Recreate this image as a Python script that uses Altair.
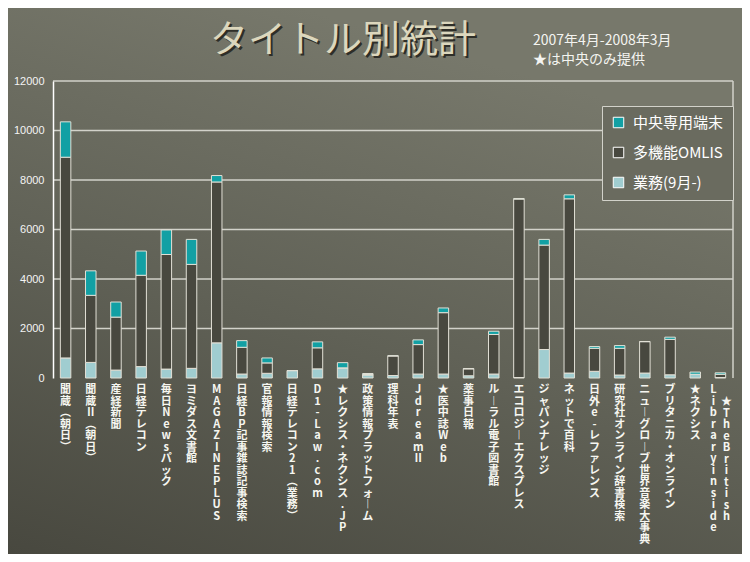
import altair as alt
import pandas as pd

categories = ["聞蔵（朝日）", "聞蔵Ⅱ（朝日）", "産経新聞", "日経テレコン", "毎日Newsパック",
              "ヨミダス文書館", "MAGAZINEPLUS", "日経BP記事雑誌記事検索", "官報情報検索",
              "日経テレコン21（業務）", "D1-Law.com", "★レクシス・ネクシス.JP",
              "政策情報プラットフォーム", "理科年表", "JdreamⅡ", "★医中誌Web", "薬事日報",
              "ルーラル電子図書館", "エコロジーエクスプレス", "ジャパンナレッジ", "ネットで百科",
              "日外e-レファレンス", "研究社オンライン辞書検索", "ニューグローブ世界音楽大事典",
              "ブリタニカ・オンライン", "★ネクシス", "★The British Library inside"]

series = ["中央専用端末", "多機能OMLIS", "業務(9月-)"]
gyomu = [810, 630, 320, 460, 360, 390, 1420, 160, 190, 300, 370, 410, 120, 100, 160, 160,
         90, 160, 20, 1150, 200, 270, 120, 200, 130, 150, 20]
omlis = [8110, 2710, 2140, 3690, 4630, 4200, 6500, 1080, 420, 0, 850, 0, 20, 790, 1190, 2480,
         280, 1600, 7210, 4220, 7040, 930, 1080, 1270, 1430, 0, 130]
chuo = [1430, 990, 610, 980, 990, 1010, 260, 270, 200, 0, 240, 210, 40, 10, 190, 190,
        10, 130, 20, 230, 160, 70, 110, 0, 90, 90, 60]

y_ticks = [0, 2000, 4000, 6000, 8000, 10000, 12000]

title_text = "タイトル別統計"
subtitle1 = "2007年4月-2008年3月"
subtitle2 = "★は中央のみ提供"

# last label is written in two vertical columns (right column first)
last_columns = ["★The British", "Library inside"]

colors = ["#12a0a4", "#48483f", "#a0cdd0"]

VERT = {"ー": "︱", "（": "︵", "）": "︶", " ": "　"}


def vertical(s):
    return "\n".join(VERT.get(ch, ch) for ch in s)


rows = []
for i, c in enumerate(categories):
    for s, vals, o in ((series[2], gyomu, 0), (series[1], omlis, 1), (series[0], chuo, 2)):
        rows.append({"cat": c, "series": s, "value": vals[i], "ord": o})
df = pd.DataFrame(rows)

lab_df = pd.DataFrame({"cat": categories[:-1], "txt": [vertical(c) for c in categories[:-1]]})
last_r = pd.DataFrame({"cat": [categories[-1]], "txt": [vertical(last_columns[0])]})
last_l = pd.DataFrame({"cat": [categories[-1]], "txt": [vertical(last_columns[1])]})

W, H = 680, 297
xscale = alt.Scale(domain=categories, paddingInner=0.58, paddingOuter=0.29)
CJK = "Noto Sans CJK JP"

bg = alt.Chart(pd.DataFrame({"a": [1]})).mark_rect(
    fill={"gradient": "linear", "x1": 0.4, "y1": 0, "x2": 0, "y2": 1,
          "stops": [{"offset": 0, "color": "#77786b"},
                    {"offset": 0.5, "color": "#606156"},
                    {"offset": 1, "color": "#48483f"}]}
).encode(x=alt.value(-45), x2=alt.value(W + 9), y=alt.value(-73), y2=alt.value(H + 176))

grid = alt.Chart(pd.DataFrame({"v": y_ticks[1:]})).mark_rule(
    color="#d2d2ca", strokeWidth=1.5
).encode(y=alt.Y("v:Q", title=None), x=alt.value(0), x2=alt.value(W))

right_frame = alt.Chart(pd.DataFrame({"a": [1]})).mark_rule(
    color="#d2d2ca", strokeWidth=1.5
).encode(x=alt.value(W), y=alt.value(0), y2=alt.value(H))

bars = alt.Chart(df).mark_bar(size=10.5, stroke="#e2e0d6", strokeWidth=1).encode(
    x=alt.X("cat:N", sort=categories, scale=xscale, title=None,
            axis=alt.Axis(labels=False, ticks=True, tickBand="extent", tickSize=3,
                          tickColor="#ffffff", domainColor="#ffffff", domainWidth=1.5,
                          grid=False, zindex=1)),
    y=alt.Y("value:Q", stack="zero", title=None,
            scale=alt.Scale(domain=[0, 12000], nice=False),
            axis=alt.Axis(values=y_ticks, format="d", grid=False, ticks=False, labelPadding=9,
                          labelFont="Liberation Sans", labelFontSize=11,
                          labelColor="#f4f4f4", domainColor="#ffffff", domainWidth=1.5,
                          zindex=1)),
    color=alt.Color("series:N", scale=alt.Scale(domain=series, range=colors),
                    legend=alt.Legend(orient="none", legendX=549, legendY=25, title=None,
                                      symbolType="square", symbolSize=110,
                                      symbolStrokeColor="#ffffff", symbolStrokeWidth=1,
                                      labelFont=CJK, labelFontSize=15, labelColor="#ffffff",
                                      rowPadding=14, padding=9, labelOffset=7,
                                      strokeColor="#d2d2ca", fillColor="#6a6b5f")),
    order=alt.Order("ord:Q", sort="ascending"),
)


def label_layer(d, dx, y0):
    return alt.Chart(d).mark_text(
        lineBreak="\n", baseline="top", align="center", font=CJK, fontSize=11,
        fontWeight="bold", lineHeight=11.5, color="#f6f6f0", dx=dx
    ).encode(x=alt.X("cat:N", sort=categories, scale=xscale, axis=None),
             y=alt.value(y0), text="txt:N")


labels = label_layer(lab_df, 0, 303)
lab_r = label_layer(last_r, 6, 315)
lab_l = label_layer(last_l, -7, 303)


def free_text(t, x, y, size, color, align="left", weight="normal", dx=0, dy=0):
    return alt.Chart(pd.DataFrame({"t": [t]})).mark_text(
        font=CJK, fontSize=size, color=color, align=align, baseline="middle",
        fontWeight=weight, dx=dx, dy=dy
    ).encode(x=alt.value(x), y=alt.value(y), text="t:N")


t_shadow = free_text(title_text, 290, -40, 38, "#2e2e28", align="center", dx=2, dy=2)
t_main = free_text(title_text, 290, -40, 38, "#dcd7bd", align="center")
s1 = free_text(subtitle1, 480, -40, 14, "#f4f4f0")
s2 = free_text(subtitle2, 480, -21, 14, "#f4f4f0")

chart = alt.layer(bg, grid, right_frame, bars, labels, lab_r, lab_l,
                  t_shadow, t_main, s1, s2).properties(
    width=W, height=H, autosize="none",
    padding={"left": 45, "top": 73, "right": 9, "bottom": 176},
).configure(background="#5e5f55").configure_view(stroke=None)

chart.save("out.html", embed_options={"renderer": "svg", "actions": False})
